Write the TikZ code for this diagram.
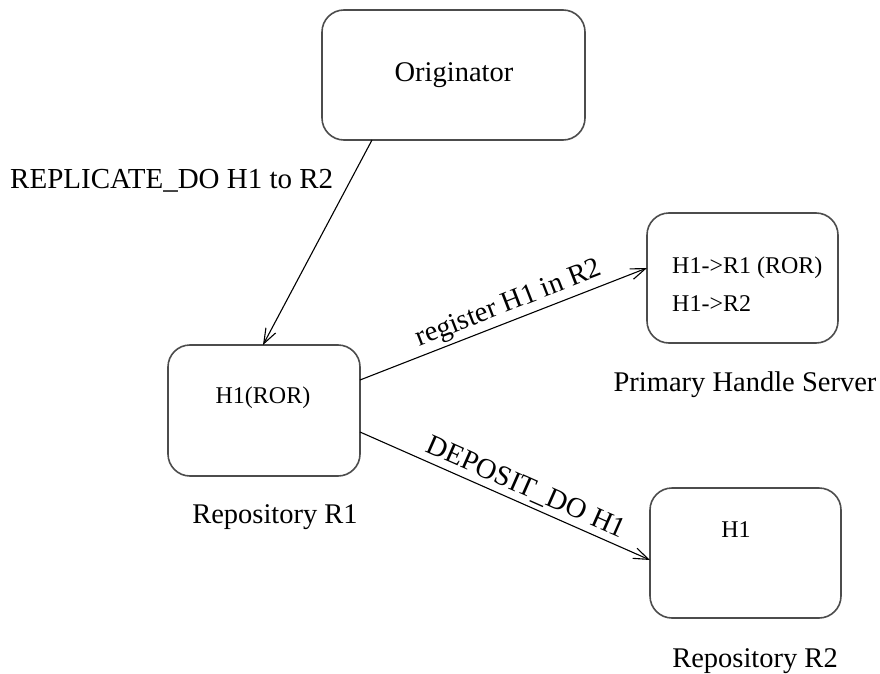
\documentclass[tikz,border=0pt]{standalone}
\usepackage{fontspec}
\setmainfont{Liberation Serif}
\usetikzlibrary{arrows.meta}
\begin{document}
\begin{tikzpicture}[x=1pt,y=-1pt,
  box/.style={draw=black!70, line width=1.6pt, rounded corners=22pt, inner sep=0pt},
  conn/.style={draw=black, line width=1.1pt, -{Straight Barb[length=15pt,width=11pt,line width=1.1pt]}},
  lbl/.style={font=\fontsize{28.5}{32}\selectfont, inner sep=0pt},
  inner/.style={font=\fontsize{24}{28}\selectfont, inner sep=0pt}]
\useasboundingbox (0,0) rectangle (880,674);
\draw[box] (322,10) rectangle (585,140);
\node[lbl] (origt) at (454,75) {Originator};
\draw[box] (168,345) rectangle (360,476);
\node[inner] (r1t) at (263,398) {H1(ROR)};
\draw[box] (647,213) rectangle (838,343);
\node[inner, anchor=west] (p1) at (672,268) {H1->R1 (ROR)};
\node[inner, anchor=west] (p2) at (672,304) {H1->R2};
\draw[box] (650,488) rectangle (841,618);
\node[inner] (r2t) at (736,530) {H1};
\node[lbl] (l1) at (275,517) {Repository R1};
\node[lbl] (l2) at (745,385) {Primary Handle Server};
\node[lbl] (l3) at (755,661) {Repository R2};
\node[lbl, anchor=west, font=\fontsize{29}{32}\selectfont] (l4) at (10,181) {REPLICATE\_DO H1 to R2};
\coordinate (a1) at (372,140);
\coordinate (a2) at (263,345);
\coordinate (b1) at (360,380);
\coordinate (b2) at (647,268);
\coordinate (c1) at (360,432);
\coordinate (c2) at (650,560);
\draw[conn] (a1) -- (a2);
\draw[conn] (b1) -- node[lbl, sloped, above, yshift=3pt, pos=0.54] {register H1 in R2} (b2);
\draw[conn] (c1) -- node[lbl, sloped, above, yshift=4pt, pos=0.55] {DEPOSIT\_DO H1} (c2);
\end{tikzpicture}
\end{document}
